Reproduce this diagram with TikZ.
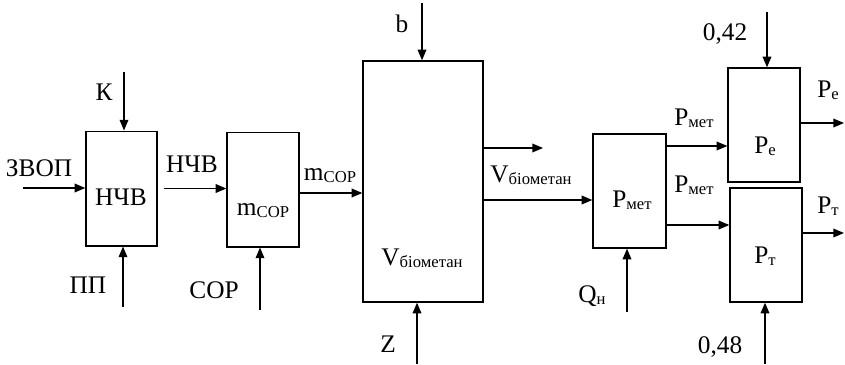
\documentclass[tikz,border=0pt]{standalone}
\usepackage{fontspec}
\setmainfont{Liberation Serif}
\usepackage{tikz}
\usetikzlibrary{arrows.meta,positioning}

\newcommand{\lsub}[1]{\raisebox{-0.25ex}{\fontsize{12.5}{14}\selectfont #1}}

\begin{document}
\begin{tikzpicture}[
  x=0.75pt, y=-0.75pt,
  blok/.style={draw, line width=1pt, minimum width=54pt, minimum height=86pt, inner sep=0pt},
  arr/.style={line width=1pt, -{Triangle[length=8pt,width=6.5pt]}},
  txt/.style={anchor=base, inner sep=0pt},
  every node/.style={font=\fontsize{19}{22}\selectfont}
]
\useasboundingbox (0,0) rectangle (845,364);

% blocks
\node[blok, minimum width=53.25pt] (nchv) at (121.5,188.5) {};
\node[blok] (mcop) at (263,189.5) {};
\node[blok, minimum width=90pt, minimum height=180.75pt] (vbio) at (423,181.5) {};
\node[blok, minimum width=54.75pt, minimum height=85.5pt] (pmet) at (629.5,191) {};
\node[blok, minimum height=85.5pt] (pe) at (764,125) {};
\node[blok, minimum height=85.5pt] (pt) at (766,245) {};

\node[txt] (nchvt) at (121,205) {НЧВ};
\node[txt] (mcopt) at (263,215) {m\lsub{СОР}};
\node[txt] (vbiot) at (422,265) {V\lsub{біометан}};
\node[txt] (pmett) at (632,207) {P\lsub{мет}};
\node[txt] (pet) at (765,153) {P\lsub{е}};
\node[txt] (ptt) at (765,263) {P\lsub{т}};

% free ends
\coordinate (kin) at (124,72);
\coordinate (zvin) at (23,188);
\coordinate (ppin) at (123,307);
\coordinate (sorin) at (260,310);
\coordinate (bin) at (422,3);
\coordinate (zin) at (417,364);
\coordinate (vout) at (543,148);
\coordinate (qin) at (627,312);
\coordinate (ain) at (767,12);
\coordinate (din) at (765,364);
\coordinate (peout) at (844,123);
\coordinate (ptout) at (844,233);

% connectors
\draw[arr] (kin) -- (kin |- nchv.north);
\draw[arr] (zvin) -- (nchv.west |- zvin);
\draw[arr] (ppin) -- (ppin |- nchv.south);
\draw[arr] ([xshift=4.5pt]nchv.east) -- (mcop.west |- nchv.east);
\draw[arr] (sorin) -- (sorin |- mcop.south);
\draw[arr] (mcop.east |- 0,193) -- (vbio.west |- 0,193);
\draw[arr] (bin) -- (bin |- vbio.north);
\draw[arr] (zin) -- (zin |- vbio.south);
\draw[arr] (vbio.east |- vout) -- (vout);
\draw[arr] (vbio.east |- 0,200) -- (pmet.west |- 0,200);
\draw[arr] (qin) -- (qin |- pmet.south);
\draw[arr] (pmet.east |- 0,146) -- (pe.west |- 0,146);
\draw[arr] (pmet.east |- 0,225) -- (pt.west |- 0,225);
\draw[arr] (ain) -- (ain |- pe.north);
\draw[arr] (din) -- (din |- pt.south);
\draw[arr] (pe.east |- peout) -- (peout);
\draw[arr] (pt.east |- ptout) -- (ptout);

% labels
\node[txt] (kl) at (104,100) {К};
\node[txt] (zvl) at (39,176) {ЗВОП};
\node[txt] (ppl) at (88,293) {ПП};
\node[txt] (nchvl) at (192,172) {НЧВ};
\node[txt] (sorl) at (214,298) {СОР};
\node[txt] (mcopl) at (330,180) {m\lsub{СОР}};
\node[txt] (bl) at (402,32) {b};
\node[txt] (zl) at (388,352) {Z};
\node[txt] (vl) at (531,182) {V\lsub{біометан}};
\node[txt] (pmetl) at (694,125) {P\lsub{мет}};
\node[txt] (pmetll) at (694,192) {P\lsub{мет}};
\node[txt] (ql) at (592,302) {Q\lsub{н}};
\node[txt] (al) at (725,40) {0,42};
\node[txt] (pel) at (828,97) {P\lsub{е}};
\node[txt] (ptl) at (828,213) {P\lsub{т}};
\node[txt] (dl) at (720,353) {0,48};
\end{tikzpicture}
\end{document}
